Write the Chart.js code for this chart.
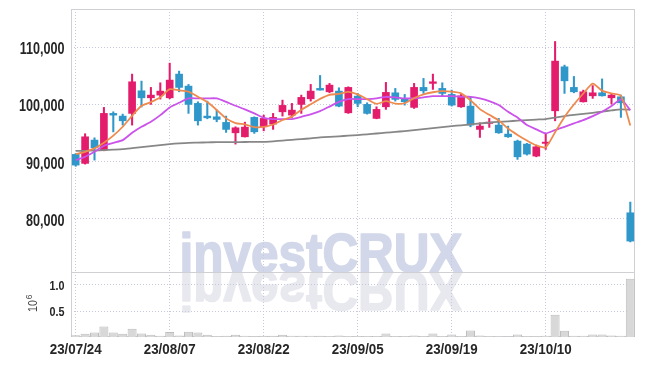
<!DOCTYPE html>
<html><head><meta charset="utf-8">
<script src="https://cdn.jsdelivr.net/npm/chart.js@4.4.0/dist/chart.umd.min.js"></script>
<style>
html,body{margin:0;padding:0;background:#fff;}
#wrap{position:relative;width:645px;height:366px;overflow:hidden;background:#fff;}
.box{position:absolute;left:0;width:645px;}
</style></head><body>
<div id="wrap">
  <div class="box" style="top:0;height:272px"><canvas id="c1" width="645" height="272"></canvas></div>
  <div class="box" style="top:272px;height:94px"><canvas id="c2" width="645" height="94"></canvas></div>
</div>
<script>
// ---------- data ----------
const dates = [
"23/07/24","23/07/25","23/07/26","23/07/27","23/07/28","23/07/31","23/08/01","23/08/02","23/08/03","23/08/04",
"23/08/07","23/08/08","23/08/09","23/08/10","23/08/11","23/08/14","23/08/16","23/08/17","23/08/18","23/08/21",
"23/08/22","23/08/23","23/08/24","23/08/25","23/08/28","23/08/29","23/08/30","23/08/31","23/09/01","23/09/04",
"23/09/05","23/09/06","23/09/07","23/09/08","23/09/11","23/09/12","23/09/13","23/09/14","23/09/15","23/09/18",
"23/09/19","23/09/20","23/09/21","23/09/22","23/09/25","23/09/26","23/09/27","23/10/04","23/10/05","23/10/06",
"23/10/10","23/10/11","23/10/12","23/10/13","23/10/16","23/10/17","23/10/18","23/10/19","23/10/20","23/10/23"];
const xTickLabels = ["23/07/24","23/08/07","23/08/22","23/09/05","23/09/19","23/10/10"];

const opens = [91275,89705,93770,92025,98430,97958,98430,102373,101152,101623,
101152,105287,103193,100175,97958,97836,96859,95044,94346,97731,
96091,96562,98709,98133,100000,100977,102792,102199,102321,98534,
101448,100000,97557,99581,102024,101047,99477,102967,103665,102792,
101745,99581,99703,95637,96684,96388,94817,93596,93072,90978,
93195,98883,106561,102967,100454,101500,102024,101152,101326,81084];
const highs = [91415,94880,94170,99477,98710,98307,105287,104066,102967,103770,
107200,105811,103490,100454,100576,99005,97958,96091,96900,97836,
98133,98430,100750,100175,101623,103490,105050,103665,102897,103071,
101920,100280,99581,103839,102792,101745,103665,104537,105287,103770,
102495,101745,101326,96789,97557,97557,96213,93771,93195,92898,
94940,110980,106858,104880,102495,103280,104450,101920,101623,82951];
const lows = [89200,89580,90280,91900,95200,96388,96388,99546,100000,100925,
100977,102200,98430,96388,97487,96964,95114,93072,94300,94940,
95393,95637,97958,97731,98430,100576,102495,102024,99581,98430,
99581,98307,97487,99128,100576,99878,99302,101920,102618,101448,
99703,99477,96091,94241,95987,94940,94241,90403,91153,90856,
92147,97138,101920,102024,100401,101047,101448,100052,97731,76000];
const closes = [89410,94346,92427,98430,98133,97138,103944,101152,101623,102321,
104240,102967,100000,97138,97660,97382,95637,95917,96039,95219,
97557,97731,99825,99005,101222,102321,102495,103368,99703,102967,
100175,98430,99128,102094,100873,100454,102967,102373,103944,101920,
99878,101500,96388,96213,96911,95044,94346,90856,91328,92601,
93421,107556,104118,102199,102199,102024,101500,101623,100279,76146];
const volumes = [35000,64000,85000,200000,85000,64000,160000,68000,45000,26000,
98000,28000,100000,85000,45000,12000,24000,45000,26000,13000,
24000,24000,42000,26000,26000,26000,24000,15000,30000,15000,
20000,18000,20000,65000,18000,18000,30000,20000,68000,20000,
50000,20000,125000,30000,15000,15000,13000,50000,20000,8000,
26000,430000,120000,26000,26000,48000,48000,30000,26000,1120000];
const ma5 = [91330,91730,92320,93300,94550,96100,98010,99760,100400,101240,
102660,102460,102230,101330,100400,99030,97560,96750,96530,96040,
96070,96490,97270,97870,99070,100020,100970,101680,101820,102170,
101740,100930,100080,100560,100140,100200,101100,101750,102120,102330,
102220,101920,100730,99180,98180,97210,95780,94670,93700,92840,
92510,95150,97810,99980,101900,103620,102410,101910,101530,96310];
const ma20 = [90280,90860,91730,92780,93300,93770,95040,96090,96960,98130,
99480,100280,101050,101050,101050,101050,100450,99760,99130,98430,
97660,97440,97440,97440,97840,98260,98830,99620,100450,100930,
100930,100930,101050,101330,101220,101050,101050,101220,101450,101450,
101450,101330,101330,101050,100580,99880,98710,97730,96390,95640,
94940,95520,96090,96690,97260,97960,98710,99700,100870,99010];
const ma120 = [91900,91900,91940,92030,92110,92200,92370,92550,92720,92900,
93070,93200,93300,93330,93370,93420,93420,93420,93440,93460,
93470,93560,93680,93820,93950,94070,94240,94350,94430,94540,
94640,94780,94920,95060,95200,95340,95520,95690,95870,96040,
96210,96350,96510,96670,96830,96960,97050,97160,97260,97350,
97440,97700,97960,98170,98360,98530,98740,98950,99130,99090];
const priceTicks = [80000, 90000, 100000, 110000];
const volumeTicks = [500000, 1000000];
const watermark = "investCRUX";
const volumeUnit = "10";
const volumeExp = "6";

// ---------- style ----------
const UP = '#e31c6b', DOWN = '#2f97c9';
const GRID = '#c6c9dc';
const FRAME = '#cfcfd4';
const TXT = '#262626';
const FONT = "'Liberation Sans', Arial, sans-serif";
Chart.defaults.font.family = FONT;

const fmt = v => String(v).replace(/\B(?=(\d{3})+(?!\d))/g, ',');
const isUp = i => closes[i] >= opens[i];
const xGridColor = c => (xTickLabels.includes(dates[c.index]) ? GRID : 'rgba(0,0,0,0)');
const noPad = s => { s.paddingTop = 0; s.paddingBottom = 0; s.paddingLeft = 0; s.paddingRight = 0; };

// condensed bold label: font scaled horizontally so that refText measures refWidth
function label(ctx, text, x, y, size, refText, refWidth, align){
  ctx.font = 'bold ' + size + 'px ' + FONT;
  const sx = refWidth / ctx.measureText(refText).width;
  const w = ctx.measureText(text).width * sx;
  const x0 = align === 'right' ? x - w : (align === 'center' ? x - w/2 : x);
  ctx.save();
  ctx.translate(x0, y); ctx.scale(sx, 1);
  ctx.textAlign = 'left'; ctx.textBaseline = 'alphabetic'; ctx.fillStyle = TXT;
  ctx.fillText(text, 0, 0);
  ctx.restore();
}

function frame(sides){
  return {id:'frame', beforeDatasetsDraw(chart){
    const {ctx, chartArea:a} = chart;
    const l = Math.round(a.left)+0.5, r = Math.round(a.right)-0.5, t = Math.round(a.top)+0.5, b = Math.round(a.bottom)-0.5;
    ctx.save(); ctx.strokeStyle = FRAME; ctx.lineWidth = 1; ctx.beginPath();
    if (sides.includes('l')) { ctx.moveTo(l, t-0.5); ctx.lineTo(l, b+0.5); }
    if (sides.includes('r')) { ctx.moveTo(r, t-0.5); ctx.lineTo(r, b+0.5); }
    if (sides.includes('t')) { ctx.moveTo(l, t); ctx.lineTo(r, t); }
    if (sides.includes('b')) { ctx.moveTo(l, b); ctx.lineTo(r, b); }
    ctx.stroke(); ctx.restore();
  }};
}
function wmPlugin(flip){
  return {id:'wm', beforeDraw(chart){
    const ctx = chart.ctx; ctx.save();
    ctx.font = "bold 55px 'Liberation Sans', Arial, sans-serif";
    const w = ctx.measureText(watermark).width;
    const sx = 283 / w;
    ctx.translate(321, flip ? 0 : 272);
    ctx.scale(sx, flip ? -1 : 1);
    ctx.fillStyle = flip ? '#e8e8ef' : '#d2d8ea';
    ctx.strokeStyle = ctx.fillStyle; ctx.lineWidth = 1.6; ctx.lineJoin = 'round';
    ctx.textAlign = 'center'; ctx.textBaseline = 'alphabetic';
    ctx.fillText(watermark, 0, 0);
    ctx.strokeText(watermark, 0, 0);
    ctx.restore();
  }};
}
const priceLabels = {id:'plab', afterDraw(chart){
  const s = chart.scales.y;
  priceTicks.forEach(v => label(chart.ctx, fmt(v), 64.5, s.getPixelForValue(v) + 6.8, 16, '80,000', 38.5, 'right'));
}};
const volLabels = {id:'vlab', afterDraw(chart){
  const ctx = chart.ctx, sy = chart.scales.y, sx = chart.scales.x;
  volumeTicks.forEach(v => label(ctx, (v/1e6).toFixed(1), 64.5, sy.getPixelForValue(v) + 5, 12.5, '0.5', 15, 'right'));
  dates.forEach((d, i) => { if (xTickLabels.includes(d)) label(ctx, d, sx.getPixelForValue(i), 82, 15, '23/07/24', 52, 'center'); });
  // unit 10^6, rotated
  ctx.save();
  ctx.translate(37, 40); ctx.rotate(-Math.PI/2);
  ctx.fillStyle = '#444'; ctx.textAlign = 'left'; ctx.textBaseline = 'alphabetic';
  ctx.font = "12.5px " + FONT;
  ctx.save(); ctx.scale(0.85, 1); ctx.fillText(volumeUnit, 0, 0); ctx.restore();
  const w = ctx.measureText(volumeUnit).width * 0.85;
  ctx.font = "8.5px " + FONT; ctx.fillText(volumeExp, w + 1, -5);
  ctx.restore();
}};

// ---------- price chart ----------
new Chart(document.getElementById('c1'), {
  type: 'bar',
  data: { labels: dates, datasets: [
    {type:'line', data: ma120, borderColor:'#878787', borderWidth:1.8, pointRadius:0, tension:0.2, order:3},
    {type:'line', data: ma20, borderColor:'#cb52ea', borderWidth:1.8, pointRadius:0, tension:0.2, order:2},
    {type:'line', data: ma5, borderColor:'#ee8a4e', borderWidth:1.8, pointRadius:0, tension:0.2, order:1},
    {data: lows.map((l,i)=>[l, highs[i]]), backgroundColor: c=>isUp(c.dataIndex)?UP:DOWN, barThickness:1.4, grouped:false, order:5},
    {data: opens.map((o,i)=>[o, closes[i]]), backgroundColor: c=>isUp(c.dataIndex)?UP:DOWN, barThickness:7, grouped:false, order:4}
  ]},
  options: {
    responsive:false, animation:false,
    layout:{padding:{top:9,right:10,bottom:0,left:0}},
    plugins:{legend:{display:false}, tooltip:{enabled:false}},
    scales:{
      x:{offset:true, grid:{offset:false, drawTicks:false, color:xGridColor, lineWidth:1},
         border:{display:false, dash:[1,2]}, ticks:{display:false, autoSkip:false},
         afterFit:s=>{s.height=0; noPad(s);}},
      y:{min:70750, max:116650,
         afterBuildTicks:s=>{s.ticks = priceTicks.map(v=>({value:v}));},
         afterFit:s=>{s.width=71; noPad(s);},
         grid:{color:GRID, drawTicks:false}, border:{display:false, dash:[1,2]},
         ticks:{display:false}}
    }
  },
  plugins:[wmPlugin(false), frame('ltr'), priceLabels]
});

// ---------- volume chart ----------
new Chart(document.getElementById('c2'), {
  type: 'bar',
  data: { labels: dates, datasets: [
    {data: volumes, backgroundColor:'#d8d8d8', borderColor:'#bdbdbd', borderWidth:1, barPercentage:1, categoryPercentage:0.96}
  ]},
  options: {
    responsive:false, animation:false,
    layout:{padding:{top:0,right:10,bottom:0,left:0}},
    plugins:{legend:{display:false}, tooltip:{enabled:false}},
    scales:{
      x:{offset:true, grid:{offset:false, drawTicks:false, color:xGridColor, lineWidth:1},
         border:{display:false, dash:[1,2]},
         ticks:{display:false, autoSkip:false},
         afterFit:s=>{s.height=29; noPad(s);}},
      y:{min:0, max:1250000,
         afterBuildTicks:s=>{s.ticks = volumeTicks.map(v=>({value:v}));},
         afterFit:s=>{s.width=71; noPad(s);},
         grid:{color:GRID, drawTicks:false}, border:{display:false, dash:[1,2]},
         ticks:{display:false}}
    }
  },
  plugins:[wmPlugin(true), frame('lrtb'), volLabels]
});
</script>
</body></html>
